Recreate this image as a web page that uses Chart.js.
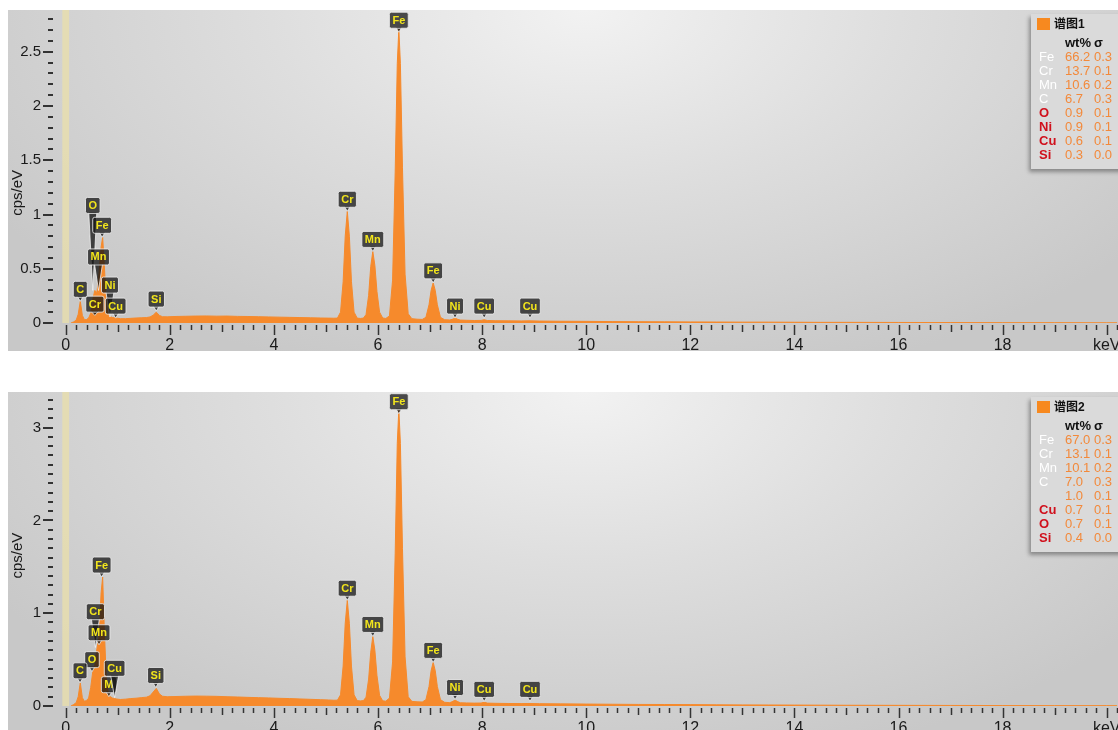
<!DOCTYPE html>
<html>
<head>
<meta charset="utf-8">
<script src="https://cdn.jsdelivr.net/npm/chart.js@4.4.1/dist/chart.umd.min.js"></script>
<style>
  body { margin: 0; background: #fff; width: 1118px; height: 730px; overflow: hidden; font-family: "Liberation Sans", Arial, sans-serif; }
  .panel { position: absolute; left: 8px; width: 1110px; height: 341px; }
  .panel canvas { position: absolute; left: 0; top: 0; }
  .legend { position: absolute; left: 1023px; width: 95px; height: 155px; background: #dadada; box-shadow: -2px 3px 4px rgba(0,0,0,0.35); font-size: 13px; line-height: 14px; }
  .legend div { position: absolute; white-space: nowrap; }
  .sw { left: 6px; top: 4px; width: 13px; height: 12px; background: #f7891f; }
  .hd { left: 23px; top: 2px; font-weight: bold; font-size: 12px; line-height: 16px; font-family: "Liberation Sans", "Noto Sans CJK SC", sans-serif; color: #111; }
  .bold { font-weight: bold; color: #111; }
  .white { color: #fff; }
  .red { color: #d0101c; font-weight: bold; }
  .val { color: #f3893a; }
</style>
</head>
<body>
<div class="panel" style="top:10px"><canvas id="spec1" width="1110" height="341"></canvas><div class="legend" id="leg1" style="top:4px"></div></div>
<div class="panel" style="top:392px"><canvas id="spec2" width="1110" height="341"></canvas><div class="legend" id="leg2" style="top:5px"></div></div>
<script>
const energies = [0.10, 0.15, 0.20, 0.24, 0.28, 0.32, 0.36, 0.40, 0.44, 0.48, 0.52, 0.56, 0.60, 0.64, 0.68, 0.71, 0.74, 0.78, 0.82, 0.86,
  0.90, 0.94, 0.98, 1.05, 1.15, 1.25, 1.35, 1.45, 1.55, 1.62, 1.68, 1.74, 1.80, 1.86, 1.95, 2.10, 2.30, 2.50, 2.70, 2.90,
  3.10, 3.30, 3.50, 3.70, 3.90, 4.10, 4.30, 4.50, 4.70, 4.90, 5.05, 5.15, 5.22, 5.28, 5.33, 5.37, 5.41, 5.45, 5.49, 5.54,
  5.60, 5.66, 5.72, 5.77, 5.82, 5.86, 5.90, 5.94, 5.98, 6.03, 6.09, 6.15, 6.22, 6.28, 6.33, 6.37, 6.40, 6.43, 6.47, 6.52,
  6.58, 6.65, 6.75, 6.85, 6.92, 6.98, 7.02, 7.06, 7.10, 7.14, 7.20, 7.28, 7.38, 7.44, 7.48, 7.52, 7.58, 7.70, 7.85, 7.98,
  8.04, 8.10, 8.25, 8.50, 8.75, 8.90, 9.10, 9.50, 10.0, 10.5, 11.0, 11.5, 12.0, 12.5, 13.0, 13.5, 14.0, 14.5, 15.0, 16.0,
  17.0, 18.0, 19.0, 20.0, 20.2];

const spectrum1 = [0, 0.01, 0.025, 0.08, 0.20, 0.07, 0.03, 0.032, 0.045, 0.09, 0.22, 0.30, 0.28, 0.46, 0.70, 0.79, 0.55, 0.18, 0.07, 0.058,
  0.05, 0.048, 0.045, 0.04, 0.04, 0.043, 0.046, 0.048, 0.05, 0.056, 0.072, 0.10, 0.07, 0.058, 0.057, 0.06, 0.062, 0.064, 0.065, 0.063,
  0.064, 0.061, 0.06, 0.058, 0.056, 0.054, 0.052, 0.05, 0.048, 0.046, 0.045, 0.044, 0.045, 0.10, 0.38, 0.80, 1.03, 0.80, 0.38, 0.10,
  0.045, 0.042, 0.045, 0.078, 0.255, 0.52, 0.66, 0.53, 0.29, 0.10, 0.046, 0.042, 0.065, 0.395, 1.39, 2.39, 2.71, 2.39, 1.43, 0.45,
  0.085, 0.04, 0.035, 0.033, 0.052, 0.168, 0.30, 0.37, 0.30, 0.168, 0.052, 0.03, 0.028, 0.036, 0.045, 0.036, 0.027, 0.025, 0.023, 0.024,
  0.03, 0.023, 0.021, 0.02, 0.019, 0.02, 0.018, 0.016, 0.015, 0.013, 0.012, 0.011, 0.01, 0.009, 0.008, 0.008, 0.007, 0.006, 0.006, 0.005,
  0.004, 0.003, 0.003, 0.002, 0.002];

const spectrum2 = [0, 0.015, 0.035, 0.10, 0.25, 0.09, 0.05, 0.06, 0.085, 0.20, 0.37, 0.44, 0.62, 0.74, 1.22, 1.39, 0.85, 0.30, 0.13, 0.10,
  0.085, 0.08, 0.075, 0.07, 0.074, 0.08, 0.084, 0.09, 0.095, 0.11, 0.15, 0.19, 0.13, 0.105, 0.10, 0.102, 0.105, 0.107, 0.106, 0.104,
  0.10, 0.097, 0.093, 0.09, 0.087, 0.083, 0.08, 0.076, 0.072, 0.068, 0.065, 0.062, 0.063, 0.12, 0.43, 0.89, 1.14, 0.89, 0.43, 0.12,
  0.058, 0.055, 0.058, 0.095, 0.29, 0.58, 0.75, 0.60, 0.33, 0.115, 0.056, 0.052, 0.085, 0.475, 1.64, 2.83, 3.20, 2.83, 1.70, 0.53,
  0.10, 0.05, 0.045, 0.043, 0.068, 0.21, 0.38, 0.47, 0.38, 0.21, 0.068, 0.04, 0.036, 0.05, 0.065, 0.05, 0.035, 0.033, 0.031, 0.032,
  0.04, 0.031, 0.029, 0.027, 0.026, 0.027, 0.025, 0.023, 0.021, 0.019, 0.017, 0.016, 0.015, 0.013, 0.012, 0.011, 0.01, 0.009, 0.008, 0.007,
  0.006, 0.005, 0.004, 0.004, 0.003];

const xTicks = [0, 2, 4, 6, 8, 10, 12, 14, 16, 18, 20];
const yTicks1 = [0, 0.5, 1, 1.5, 2, 2.5];
const yTicks2 = [0, 1, 2, 3];

// etiquetas dos picos: nome, energia, ponta (cps/eV), base da caixa (null = logo acima da ponta)
const peakNames1 = ['O', 'Mn', 'Fe', 'C', 'Cr', 'Ni', 'Cu', 'Si', 'Cr', 'Mn', 'Fe', 'Fe', 'Ni', 'Cu', 'Cu'];
const peakKeV1 = [0.52, 0.63, 0.70, 0.28, 0.56, 0.85, 0.96, 1.74, 5.41, 5.90, 6.40, 7.06, 7.48, 8.04, 8.92];
const peakTip1 = [0.30, 0.30, 0.79, 0.20, 0.07, 0.055, 0.045, 0.11, 1.03, 0.66, 2.68, 0.37, 0.045, 0.045, 0.045];
const peakBox1 = [1.01, 0.535, null, null, 0.10, 0.276, null, null, null, null, null, null, null, null, null];

const peakNames2 = ['Cr', 'Mn', 'Fe', 'O', 'C', 'M', 'Cu', 'Si', 'Cr', 'Mn', 'Fe', 'Fe', 'Ni', 'Cu', 'Cu'];
const peakKeV2 = [0.57, 0.64, 0.69, 0.505, 0.275, 0.83, 0.94, 1.73, 5.41, 5.90, 6.40, 7.06, 7.48, 8.04, 8.92];
const peakTip2 = [0.63, 0.66, 1.39, 0.37, 0.25, 0.10, 0.09, 0.20, 1.14, 0.75, 3.15, 0.47, 0.07, 0.05, 0.05];
const peakBox2 = [0.93, null, null, null, null, null, 0.32, null, null, null, null, null, null, null, null];

// tabela wt%
const legendNames1 = ['Fe', 'Cr', 'Mn', 'C', 'O', 'Ni', 'Cu', 'Si'];
const legendWt1 = [66.2, 13.7, 10.6, 6.7, 0.9, 0.9, 0.6, 0.3];
const legendSigma1 = [0.3, 0.1, 0.2, 0.3, 0.1, 0.1, 0.1, 0.0];
const legendNames2 = ['Fe', 'Cr', 'Mn', 'C', '', 'Cu', 'O', 'Si'];
const legendWt2 = [67.0, 13.1, 10.1, 7.0, 1.0, 0.7, 0.7, 0.4];
const legendSigma2 = [0.3, 0.1, 0.2, 0.3, 0.1, 0.1, 0.1, 0.0];

const ORANGE = '#f68a2c';
const FONT = '"Liberation Sans", Arial, sans-serif';

// fundo cinza com brilho no topo
const bgPlugin = {
    id: 'bg',
    beforeDraw(chart) {
        const { ctx, width, height } = chart;
        ctx.save();
        ctx.translate(width * 0.52, 0);
        ctx.scale(1, 0.55);
        const g = ctx.createRadialGradient(0, 0, 0, 0, 0, 700);
        g.addColorStop(0, '#f2f2f2');
        g.addColorStop(0.45, '#dedede');
        g.addColorStop(1, '#c8c8c8');
        ctx.fillStyle = g;
        ctx.fillRect(-width, 0, width * 2, height / 0.55);
        ctx.restore();
    },
    beforeDatasetsDraw(chart) {
        const { ctx, chartArea, scales: { x } } = chart;
        const a = x.getPixelForValue(-0.065), b = x.getPixelForValue(0.065);
        ctx.save();
        ctx.fillStyle = 'rgba(232, 222, 172, 0.8)';
        ctx.fillRect(a, chartArea.top, b - a, chartArea.bottom - chartArea.top);
        ctx.restore();
    }
};

// marcas menores dos eixos + título vertical
function makeTickPlugin(yMajors, titleAt) {
    return {
        id: 'tickMarks',
        afterDraw(chart) {
            const { ctx, chartArea, scales: { x, y } } = chart;
            ctx.save();
            ctx.strokeStyle = '#333';
            ctx.lineWidth = 1.5;
            for (let i = 0; i <= 101; i++) {
                const px = Math.round(x.getPixelForValue(i / 5)) + 0.5;
                if (px > chartArea.right) break;
                const len = i % 10 === 0 ? 10 : (i % 5 === 0 ? 7 : 5);
                ctx.beginPath();
                ctx.moveTo(px, chartArea.bottom + 2);
                ctx.lineTo(px, chartArea.bottom + 2 + len);
                ctx.stroke();
            }
            ctx.lineWidth = 2;
            for (let j = 0; j / 10 <= y.max; j++) {
                const v = j / 10;
                const py = Math.round(y.getPixelForValue(v));
                const major = yMajors.some(t => Math.abs(t - v) < 1e-6);
                ctx.beginPath();
                ctx.moveTo(chartArea.left - (major ? 11 : 6), py);
                ctx.lineTo(chartArea.left - 1, py);
                ctx.stroke();
            }
            ctx.translate(10, y.getPixelForValue(titleAt));
            ctx.rotate(-Math.PI / 2);
            ctx.font = '15px ' + FONT;
            ctx.fillStyle = '#1a1a1a';
            ctx.textAlign = 'center';
            ctx.textBaseline = 'middle';
            ctx.fillText('cps/eV', 0, 0);
            ctx.restore();
        }
    };
}

function makeLabelPlugin(names, kev, tips, boxes) {
    return {
        id: 'peakLabels',
        afterDatasetsDraw(chart) {
            const { ctx, scales: { x, y } } = chart;
            ctx.save();
            ctx.font = 'bold 11px ' + FONT;
            ctx.textAlign = 'center';
            ctx.textBaseline = 'middle';
            names.forEach((name, i) => {
                const px = x.getPixelForValue(kev[i]);
                const tipY = y.getPixelForValue(tips[i]);
                const boxB = boxes[i] != null ? y.getPixelForValue(boxes[i]) : tipY - 4;
                const w = Math.max(14, ctx.measureText(name).width + 6);
                const h = 16;
                const half = boxes[i] != null ? 4 : 3;
                ctx.beginPath();
                ctx.moveTo(px - half, boxB - 1);
                ctx.lineTo(px, tipY);
                ctx.lineTo(px + half, boxB - 1);
                ctx.fillStyle = 'rgba(20,20,20,0.78)';
                ctx.fill();
                ctx.strokeStyle = 'rgba(245,245,245,0.75)';
                ctx.lineWidth = 1;
                ctx.stroke();
                ctx.beginPath();
                ctx.roundRect(px - w / 2, boxB - h, w, h, 2);
                ctx.fillStyle = 'rgba(20,20,20,0.75)';
                ctx.fill();
                ctx.strokeStyle = 'rgba(235,235,235,0.85)';
                ctx.stroke();
                ctx.fillStyle = '#f2e51c';
                ctx.fillText(name, px, boxB - h / 2 + 0.5);
            });
            ctx.restore();
        }
    };
}

function noPadding(scale) {
    scale.paddingTop = 0;
    scale.paddingBottom = 0;
    scale.paddingLeft = 0;
    scale.paddingRight = 0;
}

function drawSpectrum(id, values, yMax, yTicks, xHeight, titleAt, labelPlugin) {
    const ctx = document.getElementById(id).getContext('2d');
    return new Chart(ctx, {
        type: 'line',
        data: {
            datasets: [{
                data: energies.map((e, i) => ({ x: e, y: values[i] })),
                borderColor: ORANGE,
                backgroundColor: ORANGE,
                borderWidth: 1,
                fill: 'origin',
                pointRadius: 0,
                tension: 0
            }]
        },
        options: {
            responsive: false,
            animation: false,
            layout: { padding: 0 },
            plugins: { legend: { display: false }, tooltip: { enabled: false } },
            scales: {
                x: {
                    type: 'linear',
                    min: -0.225,
                    max: 20.217,
                    afterBuildTicks: s => { s.ticks = xTicks.map(v => ({ value: v })); },
                    afterFit: s => { s.height = xHeight; noPadding(s); },
                    grid: { display: false, drawTicks: false },
                    border: { display: false },
                    ticks: {
                        padding: 13, autoSkip: false, maxRotation: 0, color: '#1a1a1a',
                        font: { size: 16, family: FONT },
                        callback: v => v === 20 ? 'keV' : String(v)
                    }
                },
                y: {
                    min: 0,
                    max: yMax,
                    afterBuildTicks: s => { s.ticks = yTicks.map(v => ({ value: v })); },
                    afterFit: s => { s.width = 46; noPadding(s); },
                    grid: { display: false, drawTicks: false },
                    border: { display: false },
                    ticks: {
                        padding: 13, color: '#1a1a1a',
                        font: { size: 15, family: FONT },
                        callback: v => String(v)
                    }
                }
            }
        },
        plugins: [bgPlugin, makeTickPlugin(yTicks, titleAt), labelPlugin]
    });
}

function buildLegend(id, title, names, wt, sigma) {
    const el = document.getElementById(id);
    let html = `<div class="sw"></div><div class="hd">${title}</div>`;
    html += `<div class="bold" style="left:34px;top:22px">wt%</div><div class="bold" style="left:63px;top:22px">σ</div>`;
    names.forEach((n, i) => {
        const top = 36 + i * 14;
        const cls = i < 4 ? 'white' : 'red';
        html += `<div class="${cls}" style="left:8px;top:${top}px">${n}</div>`;
        html += `<div class="val" style="left:34px;top:${top}px">${wt[i].toFixed(1)}</div>`;
        html += `<div class="val" style="left:63px;top:${top}px">${sigma[i].toFixed(1)}</div>`;
    });
    el.innerHTML = html;
}

drawSpectrum('spec1', spectrum1, 2.885, yTicks1, 28, 1.20, makeLabelPlugin(peakNames1, peakKeV1, peakTip1, peakBox1));
drawSpectrum('spec2', spectrum2, 3.384, yTicks2, 27, 1.62, makeLabelPlugin(peakNames2, peakKeV2, peakTip2, peakBox2));
buildLegend('leg1', '谱图1', legendNames1, legendWt1, legendSigma1);
buildLegend('leg2', '谱图2', legendNames2, legendWt2, legendSigma2);
</script>
</body>
</html>
